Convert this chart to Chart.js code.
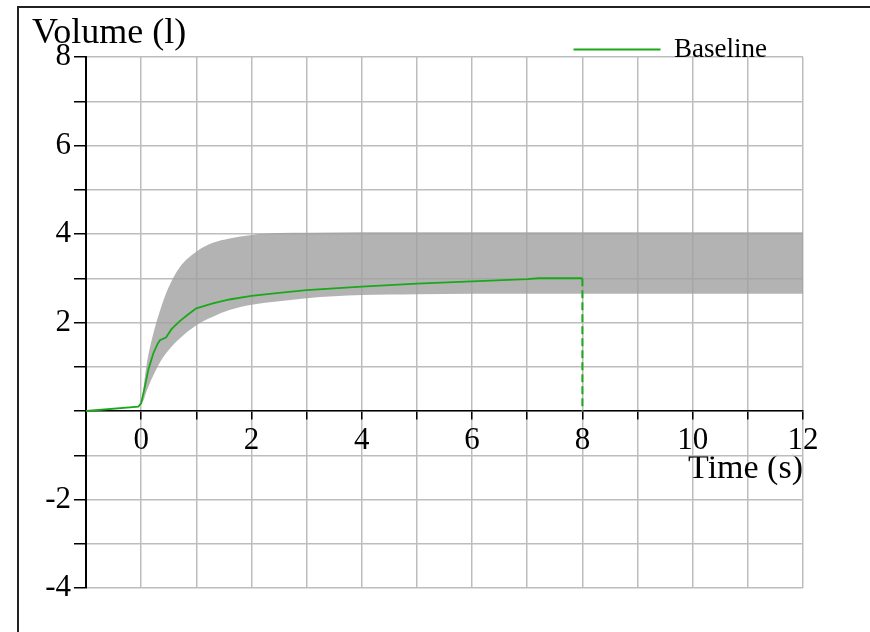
<!DOCTYPE html>
<html>
<head>
<meta charset="utf-8">
<script src="https://cdn.jsdelivr.net/npm/chart.js@4.4.1/dist/chart.umd.min.js"></script>
<style>
  html, body { margin: 0; padding: 0; background: #fff; }
  #wrap { width: 870px; height: 632px; position: relative; }
</style>
</head>
<body>
<div id="wrap"><canvas id="volume-chart"></canvas></div>
<script>
// baseline curve (time in s, volume in l)
var baseTime   = [-1, -0.05, 0, 0.05, 0.13, 0.22, 0.3, 0.34, 0.45, 0.55, 0.7, 0.85, 1.0, 1.3, 1.6, 2.0, 2.5, 3, 4, 5, 6, 7, 7.2, 8];
var baseVolume = [0, 0.1, 0.18, 0.45, 0.93, 1.3, 1.52, 1.6, 1.66, 1.85, 2.03, 2.18, 2.32, 2.43, 2.52, 2.6, 2.67, 2.73, 2.81, 2.88, 2.93, 2.98, 3.0, 3.0];

// grey band (upper / lower limits)
var bandTime  = [0, 0.05, 0.1, 0.2, 0.35, 0.5, 0.7, 1.0, 1.3, 1.6, 2.0, 2.5, 3, 4, 5, 6, 8, 10, 12];
var bandUpper = [0.15, 0.6, 1.05, 1.65, 2.3, 2.8, 3.25, 3.6, 3.8, 3.9, 3.98, 4.02, 4.03, 4.04, 4.04, 4.04, 4.04, 4.04, 4.04];
var bandLower = [0.15, 0.26, 0.45, 0.75, 1.12, 1.38, 1.64, 1.94, 2.13, 2.28, 2.4, 2.48, 2.55, 2.62, 2.64, 2.65, 2.65, 2.65, 2.65];

// drop at the end of the baseline
var dropTime   = [8, 8];
var dropVolume = [3.0, 0];

function pares(xs, ys) {
  return xs.map(function(x, i) { return {x: x, y: ys[i]}; });
}

Chart.defaults.font.family = '"Liberation Serif", "DejaVu Serif", serif';
Chart.defaults.color = '#000';

var marco = {
  id: 'marco',
  beforeDraw: function(chart) {
    var ctx = chart.ctx;
    ctx.save();
    ctx.strokeStyle = '#222';
    ctx.lineWidth = 2;
    ctx.beginPath();
    ctx.moveTo(18, 632); ctx.lineTo(18, 7); ctx.lineTo(870, 7);
    ctx.stroke();
    ctx.restore();
  },
  afterDraw: function(chart) {
    var ctx = chart.ctx, a = chart.chartArea;
    ctx.save();
    ctx.font = '36px "Liberation Serif"';
    ctx.fillStyle = '#000';
    ctx.textBaseline = 'alphabetic';
    ctx.fillText('Volume (l)', a.left - 54, a.top - 14);
    ctx.restore();
  }
};

new Chart(document.getElementById('volume-chart'), {
  type: 'line',
  data: {
    datasets: [
      {
        label: 'Baseline',
        data: pares(baseTime, baseVolume),
        borderColor: '#1aa81a',
        borderWidth: 1.8,
        pointRadius: 0,
        fill: false
      },
      {
        label: 'drop',
        data: pares(dropTime, dropVolume),
        borderColor: '#1aa81a',
        borderWidth: 2,
        borderDash: [8, 4],
        pointRadius: 0,
        fill: false
      },
      {
        label: 'upper',
        data: pares(bandTime, bandUpper),
        borderWidth: 0,
        pointRadius: 0,
        cubicInterpolationMode: 'monotone',
        backgroundColor: 'rgba(160,160,160,0.8)',
        fill: '+1'
      },
      {
        label: 'lower',
        data: pares(bandTime, bandLower),
        borderWidth: 0,
        pointRadius: 0,
        cubicInterpolationMode: 'monotone',
        fill: false
      }
    ]
  },
  options: {
    responsive: true,
    maintainAspectRatio: false,
    animation: false,
    layout: { padding: { top: 0, right: 67, bottom: 44, left: 0 } },
    plugins: {
      legend: {
        position: 'top',
        align: 'end',
        maxHeight: 57,
        labels: {
          filter: function(item) { return item.datasetIndex === 0; },
          usePointStyle: true,
          pointStyle: 'line',
          pointStyleWidth: 87,
          padding: 36,
          font: { size: 27 },
          color: '#000'
        }
      },
      tooltip: { enabled: false }
    },
    scales: {
      x: {
        type: 'linear',
        min: -1,
        max: 12,
        position: { y: 0 },
        ticks: {
          stepSize: 1,
          autoSkip: false,
          maxRotation: 0,
          padding: 3,
          font: { size: 31 },
          color: '#000',
          callback: function(v) { return v % 2 === 0 ? v : ''; }
        },
        grid: { color: '#bdbdbd', lineWidth: 1.5, tickLength: 8, tickColor: '#000', tickWidth: 1.5 },
        border: { color: '#000', width: 1.5 },
        title: {
          display: true,
          text: 'Time (s)',
          align: 'end',
          font: { size: 34 },
          color: '#000',
          padding: { top: -14, bottom: 0 }
        }
      },
      y: {
        type: 'linear',
        min: -4,
        max: 8,
        ticks: {
          stepSize: 1,
          autoSkip: false,
          padding: 3,
          font: { size: 31 },
          color: '#000',
          callback: function(v) { return v % 2 === 0 && v !== 0 ? v : ''; }
        },
        grid: { color: '#bdbdbd', lineWidth: 1.5, tickLength: 12, tickColor: '#000', tickWidth: 1.5 },
        border: { color: '#000', width: 2 },
        afterFit: function(s) { s.width = 86; }
      }
    }
  },
  plugins: [marco]
});
</script>
</body>
</html>
